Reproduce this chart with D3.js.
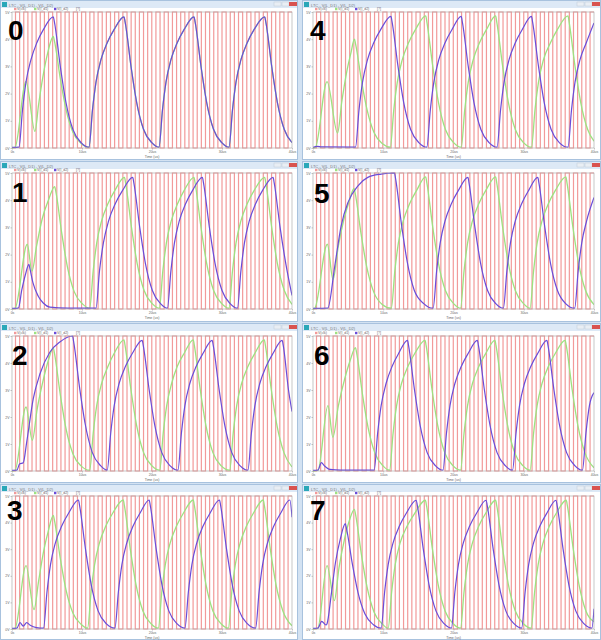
<!DOCTYPE html>
<html><head><meta charset="utf-8">
<script src="https://cdn.jsdelivr.net/npm/d3@7"></script>
<style>html,body{margin:0;padding:0;background:#d3e2f2;}svg{display:block;}</style>
</head><body>
<script>
// ---------- DATA ----------
const xTickLabels = ["0s","10us","20us","30us","40us"];
const xTickValues = [0,10,20,30,40];
const yTickValues = [0,1,2,3,4,5];
const yTickLabels = ["0V","1V","2V","3V","4V","5V"];
const panelLabels = ["0","1","2","3","4","5","6","7"];
const legendNames = ["V(clk)","V(l_d1)","V(l_d2)"];
const windowTitle = "LTC - V(L_D1) - V(L_D2)";

// clock edge times (us)
const clockEdges = [0.50,1.09,1.68,2.27,2.86,3.45,4.04,4.63,5.22,5.81,6.40,6.99,7.58,8.17,8.76,9.35,9.94,10.53,11.12,11.71,12.30,12.89,13.48,14.07,14.66,15.25,15.84,16.43,17.02,17.61,18.20,18.79,19.38,19.97,20.56,21.15,21.74,22.33,22.92,23.51,24.10,24.69,25.28,25.87,26.46,27.05,27.64,28.23,28.82,29.41,30.00,30.59,31.18,31.77,32.36,32.95,33.54,34.13,34.72,35.31,35.90,36.49,37.08,37.67,38.26,38.85,39.44];
const clockLow = 0, clockHigh = 5;

// purple traces [t(us), V]
const p0 = [[0,0.02],[1.0,0.03],[1.5,1.4],[2.0,2.42],[2.7,3.24],[3.55,3.87],[4.5,4.36],[5.9,4.82],[6.05,4.65],[6.9,3.0],[7.7,1.69],[8.7,0.68],[9.9,0.19],[11.0,0.03],[11.5,1.4],[12.0,2.42],[12.7,3.24],[13.6,3.87],[14.6,4.36],[16.0,4.82],[16.15,4.65],[17.0,3.0],[17.8,1.69],[18.8,0.68],[20.0,0.19],[21.0,0.03],[21.5,1.4],[22.0,2.42],[22.7,3.24],[23.6,3.87],[24.6,4.36],[26.0,4.82],[26.15,4.65],[27.0,3.0],[27.8,1.69],[28.8,0.68],[30.0,0.19],[31.0,0.03],[31.5,1.4],[32.0,2.42],[32.7,3.24],[33.6,3.87],[34.6,4.36],[36.1,4.82],[36.25,4.65],[37.1,3.0],[37.9,1.69],[38.9,0.68],[40,0.2]];
const p1 = [[0,0.02],[0.9,0.03],[1.4,0.7],[1.9,1.25],[2.42,1.64],[2.55,1.5],[3.0,0.96],[3.75,0.47],[4.46,0.22],[5.4,0.07],[8.0,0.03],[12.0,0.03],[12.5,1.4],[13.05,2.42],[13.8,3.24],[14.75,3.87],[15.8,4.36],[17.25,4.84],[17.4,4.65],[18.25,3.0],[19.05,1.69],[20.05,0.68],[21.25,0.19],[22.2,0.03],[22.7,1.4],[23.2,2.42],[23.9,3.24],[24.8,3.87],[25.8,4.36],[27.2,4.84],[27.35,4.65],[28.2,3.0],[29.0,1.69],[30.0,0.68],[31.2,0.19],[32.2,0.03],[32.7,1.4],[33.2,2.42],[33.9,3.24],[34.8,3.87],[35.8,4.36],[37.3,4.84],[37.45,4.65],[38.3,3.0],[39.1,1.69],[40,0.5]];
const p2 = [[0,0.02],[0.7,0.03],[1.1,0.27],[1.6,0.3],[2.1,1.07],[3.04,2.68],[4.0,3.6],[5.4,4.4],[6.84,4.78],[8.65,5.0],[8.8,4.8],[9.65,3.1],[10.45,1.75],[11.45,0.7],[12.65,0.2],[13.6,0.03],[14.1,1.4],[14.6,2.42],[15.3,3.24],[16.2,3.87],[17.2,4.36],[18.6,4.84],[18.75,4.65],[19.6,3.0],[20.4,1.69],[21.4,0.68],[22.6,0.19],[23.7,0.03],[24.2,1.4],[24.7,2.42],[25.4,3.24],[26.3,3.87],[27.3,4.36],[28.6,4.84],[28.75,4.65],[29.6,3.0],[30.4,1.69],[31.4,0.68],[32.6,0.19],[33.7,0.03],[34.2,1.4],[34.7,2.42],[35.4,3.24],[36.3,3.87],[37.3,4.36],[38.6,4.84],[38.75,4.65],[39.5,3.0],[40,2.2]];
const p3 = [[0,0.02],[0.7,0.03],[1.14,0.24],[1.6,0.11],[2.1,0.24],[2.6,0.14],[3.5,0.05],[4.5,0.03],[5.0,1.4],[5.5,2.42],[6.2,3.24],[7.1,3.87],[8.1,4.36],[9.5,4.85],[9.65,4.65],[10.5,3.0],[11.3,1.69],[12.3,0.68],[13.5,0.19],[14.7,0.03],[15.2,1.4],[15.7,2.42],[16.4,3.24],[17.3,3.87],[18.3,4.36],[19.6,4.85],[19.75,4.65],[20.6,3.0],[21.4,1.69],[22.4,0.68],[23.6,0.19],[24.7,0.03],[25.2,1.4],[25.7,2.42],[26.4,3.24],[27.3,3.87],[28.3,4.36],[29.65,4.85],[29.8,4.65],[30.65,3.0],[31.45,1.69],[32.45,0.68],[33.65,0.19],[34.8,0.03],[35.3,1.4],[35.8,2.42],[36.5,3.24],[37.4,3.87],[38.4,4.36],[39.7,4.85],[40,4.2]];
const p4 = [[0,0.02],[0.6,0.06],[1.2,0.04],[6.05,0.03],[6.55,1.4],[7.05,2.42],[7.75,3.24],[8.65,3.87],[9.65,4.36],[11.1,4.84],[11.25,4.65],[12.1,3.0],[12.9,1.69],[13.9,0.68],[15.1,0.19],[16.2,0.03],[16.7,1.4],[17.2,2.42],[17.9,3.24],[18.8,3.87],[19.8,4.36],[21.1,4.84],[21.25,4.65],[22.1,3.0],[22.9,1.69],[23.9,0.68],[25.1,0.19],[26.2,0.03],[26.7,1.4],[27.2,2.42],[27.9,3.24],[28.8,3.87],[29.8,4.36],[31.1,4.84],[31.25,4.65],[32.1,3.0],[32.9,1.69],[33.9,0.68],[35.1,0.19],[36.3,0.03],[36.8,1.4],[37.3,2.42],[38.0,3.24],[38.9,3.87],[40,4.6]];
const p5 = [[0,0.02],[2.1,0.03],[3.1,1.58],[4.0,3.05],[4.98,3.92],[6.4,4.53],[7.8,4.84],[9.7,4.96],[11.6,5.0],[11.75,4.8],[12.6,3.1],[13.4,1.75],[14.4,0.7],[15.8,0.19],[17.1,0.03],[17.6,1.4],[18.1,2.42],[18.8,3.24],[19.7,3.87],[20.7,4.36],[22.06,4.84],[22.2,4.65],[23.05,3.0],[23.85,1.69],[24.85,0.68],[26.05,0.19],[27.1,0.03],[27.6,1.4],[28.1,2.42],[28.8,3.24],[29.7,3.87],[30.7,4.36],[32.0,4.84],[32.15,4.65],[33.0,3.0],[33.8,1.69],[34.8,0.68],[36.0,0.19],[37.25,0.03],[37.75,1.4],[38.25,2.42],[38.95,3.24],[40,4.1]];
const p6 = [[0,0.02],[0.7,0.03],[1.2,0.31],[1.6,0.2],[2.4,0.06],[4.0,0.03],[8.7,0.03],[9.2,1.4],[9.7,2.42],[10.4,3.24],[11.25,3.87],[12.2,4.36],[13.46,4.84],[13.6,4.65],[14.45,3.0],[15.25,1.69],[16.25,0.68],[17.45,0.19],[18.5,0.03],[19.0,1.4],[19.5,2.42],[20.2,3.24],[21.1,3.87],[22.1,4.36],[23.4,4.84],[23.55,4.65],[24.4,3.0],[25.2,1.69],[26.2,0.68],[27.4,0.19],[28.4,0.03],[28.9,1.4],[29.4,2.42],[30.1,3.24],[31.0,3.87],[32.0,4.36],[33.3,4.84],[33.45,4.65],[34.3,3.0],[35.1,1.69],[36.1,0.68],[37.3,0.19],[38.35,0.03],[38.85,1.4],[39.35,2.42],[40,2.9]];
const p7 = [[0,0.02],[0.7,0.03],[1.24,0.29],[1.85,0.15],[2.0,0.2],[2.6,1.3],[3.2,2.5],[3.9,3.4],[4.6,3.96],[4.75,3.8],[5.6,2.45],[6.4,1.38],[7.4,0.56],[8.6,0.16],[9.7,0.03],[10.2,1.4],[10.7,2.42],[11.4,3.24],[12.3,3.87],[13.3,4.36],[14.7,4.84],[14.85,4.65],[15.7,3.0],[16.5,1.69],[17.5,0.68],[18.7,0.19],[19.7,0.03],[20.2,1.4],[20.7,2.42],[21.4,3.24],[22.3,3.87],[23.3,4.36],[24.65,4.84],[24.8,4.65],[25.65,3.0],[26.45,1.69],[27.45,0.68],[28.65,0.19],[29.7,0.03],[30.2,1.4],[30.7,2.42],[31.4,3.24],[32.3,3.87],[33.3,4.36],[34.6,4.84],[34.75,4.65],[35.6,3.0],[36.4,1.69],[37.4,0.68],[38.6,0.19],[39.7,0.03],[40,0.76]];

// green traces [t(us), V]
const g0Start = [[0,0],[0.43,0.02],[2.0,2.45],[3.28,0.61],[3.8,1.6],[4.4,2.6],[5.1,3.5],[5.9,4.1],[6.05,3.95],[6.9,2.55],[7.7,1.44],[8.7,0.58],[9.9,0.16],[11.0,0.03]];
const g1 = [[0,0],[0.43,0.02],[2.18,2.38],[2.85,1.39],[3.5,2.3],[4.3,3.3],[5.2,4.0],[6.1,4.5],[6.25,4.33],[7.1,2.8],[7.9,1.57],[8.9,0.63],[10.1,0.18],[11.1,0.03],[11.6,1.4],[12.1,2.42],[12.8,3.24],[13.7,3.87],[14.7,4.36],[16.07,4.84],[16.22,4.65],[17.07,3.0],[17.87,1.69],[18.87,0.68],[20.07,0.19],[21.05,0.03],[21.55,1.4],[22.05,2.42],[22.75,3.24],[23.65,3.87],[24.6,4.36],[26.0,4.84],[26.15,4.65],[27.0,3.0],[27.8,1.69],[28.8,0.68],[30.0,0.19],[31.0,0.03],[31.5,1.4],[32.0,2.42],[32.7,3.24],[33.6,3.87],[34.6,4.36],[36.1,4.84],[36.25,4.65],[37.1,3.0],[37.9,1.69],[38.9,0.68],[40,0.17]];
const g2 = [[0,0],[0.43,0.02],[2.0,2.37],[2.9,1.14],[3.6,2.3],[4.4,3.3],[5.2,4.1],[5.9,4.56],[6.05,4.38],[6.9,2.83],[7.7,1.59],[8.7,0.64],[9.9,0.18],[11.1,0.03],[11.6,1.4],[12.1,2.42],[12.8,3.24],[13.7,3.87],[14.6,4.36],[16.0,4.86],[16.15,4.65],[17.0,3.0],[17.8,1.69],[18.8,0.68],[20.0,0.19],[21.1,0.03],[21.6,1.4],[22.1,2.42],[22.8,3.24],[23.6,3.87],[24.6,4.36],[25.9,4.86],[26.05,4.65],[26.9,3.0],[27.7,1.69],[28.7,0.68],[29.9,0.19],[31.1,0.03],[31.6,1.4],[32.1,2.42],[32.8,3.24],[33.7,3.87],[34.7,4.36],[36.05,4.86],[36.2,4.65],[37.05,3.0],[37.85,1.69],[38.85,0.68],[40,0.15]];
const g3 = [[0,0],[0.43,0.02],[2.0,2.38],[3.15,0.73],[3.8,1.8],[4.5,2.9],[5.2,3.7],[5.9,4.27],[6.05,4.1],[6.9,2.65],[7.7,1.49],[8.7,0.6],[9.9,0.17],[10.8,0.03],[11.3,1.4],[11.8,2.42],[12.5,3.24],[13.4,3.87],[14.4,4.36],[15.9,4.85],[16.05,4.65],[16.9,3.0],[17.7,1.69],[18.7,0.68],[19.9,0.19],[20.9,0.03],[21.4,1.4],[21.9,2.42],[22.6,3.24],[23.5,3.87],[24.5,4.36],[25.9,4.85],[26.05,4.65],[26.9,3.0],[27.7,1.69],[28.7,0.68],[29.9,0.19],[30.9,0.03],[31.4,1.4],[31.9,2.42],[32.6,3.24],[33.5,3.87],[34.5,4.36],[35.9,4.85],[36.05,4.65],[36.9,3.0],[37.7,1.69],[38.7,0.68],[40,0.12]];
const g4 = [[0,0],[0.33,0.02],[2.0,2.44],[3.5,0.55],[4.1,1.7],[4.8,2.8],[5.4,3.5],[5.9,4.0],[6.05,3.84],[6.9,2.48],[7.7,1.4],[8.7,0.56],[9.9,0.16],[11.0,0.03],[11.5,1.4],[12.0,2.42],[12.7,3.24],[13.6,3.87],[14.6,4.36],[16.05,4.86],[16.2,4.65],[17.05,3.0],[17.85,1.69],[18.85,0.68],[20.05,0.19],[21.1,0.03],[21.6,1.4],[22.1,2.42],[22.8,3.24],[23.7,3.87],[24.7,4.36],[26.0,4.86],[26.15,4.65],[27.0,3.0],[27.8,1.69],[28.8,0.68],[30.0,0.19],[31.1,0.03],[31.6,1.4],[32.1,2.42],[32.8,3.24],[33.8,3.87],[34.8,4.36],[36.3,4.86],[36.45,4.65],[37.3,3.0],[38.1,1.69],[39.1,0.68],[40,0.25]];
const g5 = [[0,0],[0.24,0.02],[2.04,2.38],[2.85,1.08],[3.6,2.3],[4.4,3.3],[5.2,4.0],[5.84,4.43],[6.0,4.26],[6.85,2.75],[7.65,1.55],[8.65,0.62],[9.85,0.17],[11.15,0.03],[11.65,1.4],[12.15,2.42],[12.85,3.24],[13.75,3.87],[14.75,4.36],[16.04,4.86],[16.2,4.65],[17.05,3.0],[17.85,1.69],[18.85,0.68],[20.05,0.19],[21.0,0.03],[21.5,1.4],[22.0,2.42],[22.7,3.24],[23.6,3.87],[24.6,4.36],[26.0,4.86],[26.15,4.65],[27.0,3.0],[27.8,1.69],[28.8,0.68],[30.0,0.19],[30.9,0.03],[31.4,1.4],[31.9,2.42],[32.6,3.24],[33.5,3.87],[34.5,4.36],[36.0,4.86],[36.15,4.65],[37.0,3.0],[37.8,1.69],[38.8,0.68],[40,0.16]];
const g6 = [[0,0],[0.7,0.02],[2.13,2.42],[2.83,1.25],[3.6,2.4],[4.5,3.4],[5.3,4.1],[6.05,4.57],[6.2,4.39],[7.05,2.83],[7.85,1.6],[8.85,0.64],[10.0,0.18],[10.9,0.03],[11.4,1.4],[11.9,2.42],[12.6,3.24],[13.5,3.87],[14.5,4.36],[15.96,4.84],[16.1,4.65],[16.95,3.0],[17.75,1.69],[18.75,0.68],[19.95,0.19],[21.0,0.03],[21.5,1.4],[22.0,2.42],[22.7,3.24],[23.6,3.87],[24.6,4.36],[25.9,4.84],[26.05,4.65],[26.9,3.0],[27.7,1.69],[28.7,0.68],[29.9,0.19],[30.9,0.03],[31.4,1.4],[31.9,2.42],[32.6,3.24],[33.5,3.87],[34.5,4.36],[35.9,4.84],[36.05,4.65],[36.9,3.0],[37.7,1.69],[38.7,0.68],[40,0.12]];
const g7 = [[0,0],[0.67,0.02],[2.0,2.38],[3.04,1.07],[3.7,2.3],[4.5,3.4],[5.2,4.1],[5.9,4.5],[6.05,4.32],[6.9,2.79],[7.7,1.57],[8.7,0.63],[9.9,0.18],[10.7,0.03],[11.2,1.4],[11.7,2.42],[12.4,3.24],[13.4,3.87],[14.5,4.36],[16.0,4.84],[16.15,4.65],[17.0,3.0],[17.8,1.69],[18.8,0.68],[20.0,0.19],[21.0,0.03],[21.5,1.4],[22.0,2.42],[22.7,3.24],[23.6,3.87],[24.6,4.36],[26.0,4.84],[26.15,4.65],[27.0,3.0],[27.8,1.69],[28.8,0.68],[30.0,0.19],[31.05,0.03],[31.55,1.4],[32.05,2.42],[32.75,3.24],[33.65,3.87],[34.65,4.36],[36.05,4.84],[36.2,4.65],[37.05,3.0],[37.85,1.69],[38.85,0.68],[40,0.27]];
// in panel 0 the green trace follows the purple one after the first cycle
const g0 = g0Start.concat(p0.filter(d => d[0] > 11.0));

const purpleSeries = [p0,p1,p2,p3,p4,p5,p6,p7];
const greenSeries  = [g0,g1,g2,g3,g4,g5,g6,g7];

// ---------- LAYOUT ----------
const W = 601, H = 640;
const colX = [0, 302], colW = [298, 299];
const rowY = [0, 161, 323, 484], rowH = [160, 161, 160, 156];
const plotLeft = [12, 313], plotRight = [292, 594];
const plotTop = [12, 173, 336, 496], plotBottom = [148, 309, 471, 629];
const digitPos = [[8,40],[12,202],[12,365],[7,520],[310,40],[314,203],[314,365],[310,520]];

const C = { clock:"#f29a9a", purple:"#6a4cd9", green:"#9de281", axis:"#a0a0a0", text:"#666" };
const FONT = "Liberation Sans, Arial, sans-serif";

const svg = d3.select("body").append("svg").attr("width",W).attr("height",H);
svg.append("rect").attr("width",W).attr("height",H).attr("fill","#d3e2f2");

// clock points
const clockPts = [[0, clockLow]];
clockEdges.forEach((t,i) => clockPts.push([t, i % 2 === 0 ? clockHigh : clockLow]));
clockPts.push([40, clockEdges.length % 2 === 1 ? clockHigh : clockLow]);

for (let k = 0; k < 8; k++) {
  const col = k < 4 ? 0 : 1, row = k % 4;
  const wx = colX[col], wy = rowY[row], ww = colW[col], wh = rowH[row];
  const win = svg.append("g");
  // window frame
  win.append("rect").attr("x",wx+0.5).attr("y",wy+0.5).attr("width",ww-1).attr("height",wh-1)
    .attr("fill","#ffffff").attr("stroke","#a8c2de");
  win.append("rect").attr("x",wx+1).attr("y",wy+1).attr("width",ww-2).attr("height",7).attr("fill","#dde9f6");
  win.append("rect").attr("x",wx+2).attr("y",wy+2).attr("width",5).attr("height",5).attr("fill","#2aa7b8");
  win.append("text").attr("x",wx+9).attr("y",wy+6.5).attr("font-size",4).attr("fill","#777")
    .attr("font-family",FONT).text(windowTitle);
  win.append("rect").attr("x",wx+ww-24).attr("y",wy+2).attr("width",7).attr("height",4).attr("fill","#e9eef4").attr("stroke","#c0ccd8").attr("stroke-width",0.5);
  win.append("rect").attr("x",wx+ww-16).attr("y",wy+2).attr("width",7).attr("height",4).attr("fill","#e9eef4").attr("stroke","#c0ccd8").attr("stroke-width",0.5);
  win.append("rect").attr("x",wx+ww-9).attr("y",wy+2).attr("width",8).attr("height",4).attr("fill","#d9534f");

  const L = plotLeft[col], R = plotRight[col], T = plotTop[row], B = plotBottom[row];
  const x = d3.scaleLinear().domain([0,40]).range([L,R]);
  const y = d3.scaleLinear().domain([0,5]).range([B,T]);
  const g = svg.append("g");

  // legend
  const lg = g.append("g").attr("font-family",FONT).attr("font-size",3.5).attr("fill","#666");
  const lcol = [C.clock, C.green, C.purple];
  legendNames.forEach((n,i) => {
    lg.append("rect").attr("x",L+2+i*20).attr("y",T-4.2).attr("width",2.4).attr("height",2.4).attr("fill",lcol[i]);
    lg.append("text").attr("x",L+5+i*20).attr("y",T-1.8).text(n);
  });
  lg.append("text").attr("x",L+64).attr("y",T-1.8).text("[?]");

  // axes
  const xAxis = d3.axisBottom(x).tickValues(xTickValues).tickFormat((d,i)=>xTickLabels[i]).tickSize(1.5).tickPadding(1);
  const yAxis = d3.axisLeft(y).tickValues(yTickValues).tickFormat((d,i)=>yTickLabels[i]).tickSize(1.5).tickPadding(1);
  const ax = g.append("g").attr("transform",`translate(0,${B})`).call(xAxis);
  const ay = g.append("g").attr("transform",`translate(${L},0)`).call(yAxis);
  [ax,ay].forEach(a => {
    a.select(".domain").remove();
    a.selectAll("line").attr("stroke",C.axis).attr("stroke-width",0.6);
    a.selectAll("text").attr("font-size",3.5).attr("fill",C.text).attr("font-family",FONT);
  });
  g.append("text").attr("x",(L+R)/2).attr("y",B+10).attr("text-anchor","middle").attr("font-size",3.5)
    .attr("fill",C.text).attr("font-family",FONT).text("Time (us)");

  // clip
  const cid = "clip"+k;
  svg.append("clipPath").attr("id",cid).append("rect").attr("x",L).attr("y",T-1).attr("width",R-L).attr("height",B-T+2);
  const plot = g.append("g").attr("clip-path",`url(#${cid})`);

  // clock
  plot.append("path").datum(clockPts)
    .attr("d", d3.line().x(d=>x(d[0])).y(d=>y(d[1])).curve(d3.curveStepAfter))
    .attr("fill","none").attr("stroke",C.clock).attr("stroke-width",1.2);

  const line = d3.line().x(d=>x(d[0])).y(d=>y(d[1])).curve(d3.curveMonotoneX);
  plot.append("path").datum(greenSeries[k]).attr("d",line)
    .attr("fill","none").attr("stroke",C.green).attr("stroke-width",1.3);
  plot.append("path").datum(purpleSeries[k]).attr("d",line)
    .attr("fill","none").attr("stroke",C.purple).attr("stroke-width",1.2);

  // frame
  g.append("rect").attr("x",L).attr("y",T).attr("width",R-L).attr("height",B-T)
    .attr("fill","none").attr("stroke",C.axis).attr("stroke-width",0.6);

  // big panel number
  svg.append("text").attr("x",digitPos[k][0]).attr("y",digitPos[k][1])
    .attr("font-family",FONT).attr("font-weight","bold")
    .attr("font-size",28).attr("fill","#000").text(panelLabels[k]);
}
</script>
</body></html>
